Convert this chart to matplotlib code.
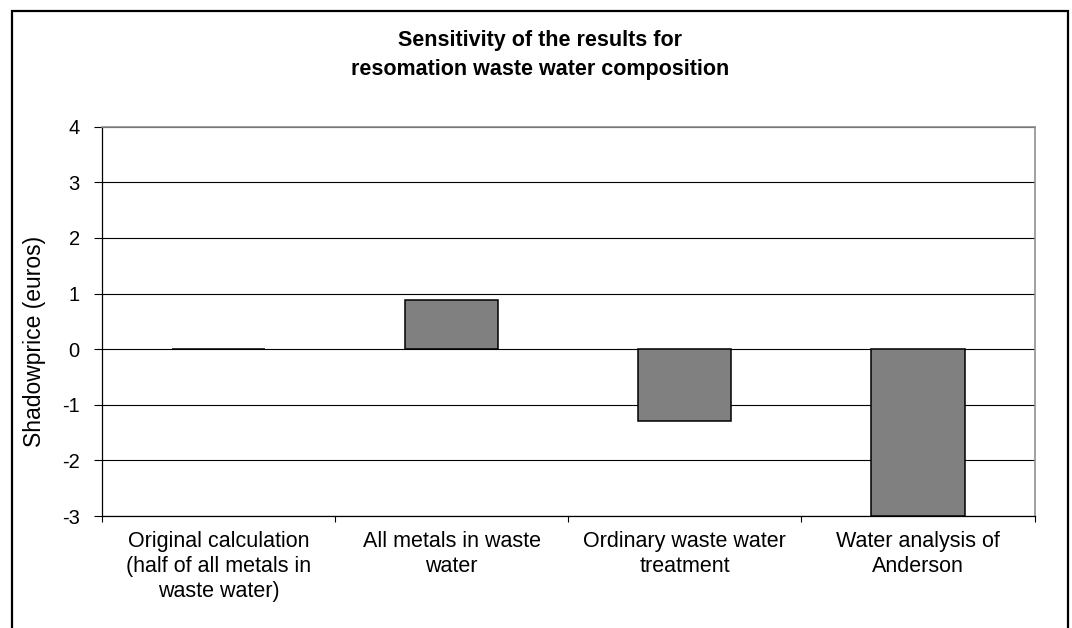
import matplotlib
matplotlib.use("Agg")
import matplotlib.pyplot as plt
from matplotlib.patches import Rectangle

plt.rcParams['font.family'] = ['Liberation Sans', 'DejaVu Sans']

# Scenario labels and resulting shadow prices (euros)
categories = [
    "Original calculation\n(half of all metals in\nwaste water)",
    "All metals in waste\nwater",
    "Ordinary waste water\ntreatment",
    "Water analysis of\nAnderson",
]
shadow_prices = [0.01, 0.89, -1.29, -3.0]
y_ticks = [-3, -2, -1, 0, 1, 2, 3, 4]
title_text = "Sensitivity of the results for\nresomation waste water composition"
y_label = "Shadowprice (euros)"

W, H = 1072, 628
fig = plt.figure(figsize=(W / 100, H / 100), dpi=100)

# Outer chart frame
fig.patches.append(Rectangle((11.5 / W, -0.05), (1068 - 11.5) / W, 1.05 - 10.5 / H,
                             transform=fig.transFigure, fill=False,
                             edgecolor='black', linewidth=1.6, zorder=0))

left, right, top, bottom = 102, 1034.5, 126.7, 516
ax = fig.add_axes([left / W, 1 - bottom / H, (right - left) / W, (bottom - top) / H])

x = list(range(len(categories)))
ax.bar(x, shadow_prices, width=0.4, color='#808080', edgecolor='black',
       linewidth=1.1, zorder=3)

ax.set_xlim(-0.5, len(categories) - 0.5)
ax.set_ylim(min(y_ticks), max(y_ticks))
ax.set_yticks(y_ticks)
ax.set_yticklabels([str(t) for t in y_ticks], fontsize=14.5)
ax.yaxis.grid(True, color='black', linewidth=0.8, zorder=1)
ax.set_axisbelow(True)

# Category separators as tick marks, labels centred under each bar
ax.set_xticks([i - 0.5 for i in range(len(categories) + 1)])
ax.set_xticklabels([])
ax.set_xticks(x, minor=True)
ax.set_xticklabels(categories, minor=True, fontsize=15.5, linespacing=1.25)
ax.tick_params(axis='x', which='minor', length=0, pad=11)
ax.tick_params(axis='x', which='major', length=4, width=0.8, color='black')
ax.tick_params(axis='y', length=6, width=0.8, color='black', pad=10)

for side in ('top', 'right'):
    ax.spines[side].set_color('#909090')
    ax.spines[side].set_linewidth(1.2)
for side in ('left', 'bottom'):
    ax.spines[side].set_color('black')
    ax.spines[side].set_linewidth(0.9)

fig.text(35 / W, 1 - 341 / H, y_label, rotation=90, ha='center', va='center',
         fontsize=16.5)
fig.text(540 / W, 1 - 55 / H, title_text, ha='center', va='center',
         fontsize=15.5, fontweight='bold', linespacing=1.5)

fig.savefig("out.png", dpi=100)
